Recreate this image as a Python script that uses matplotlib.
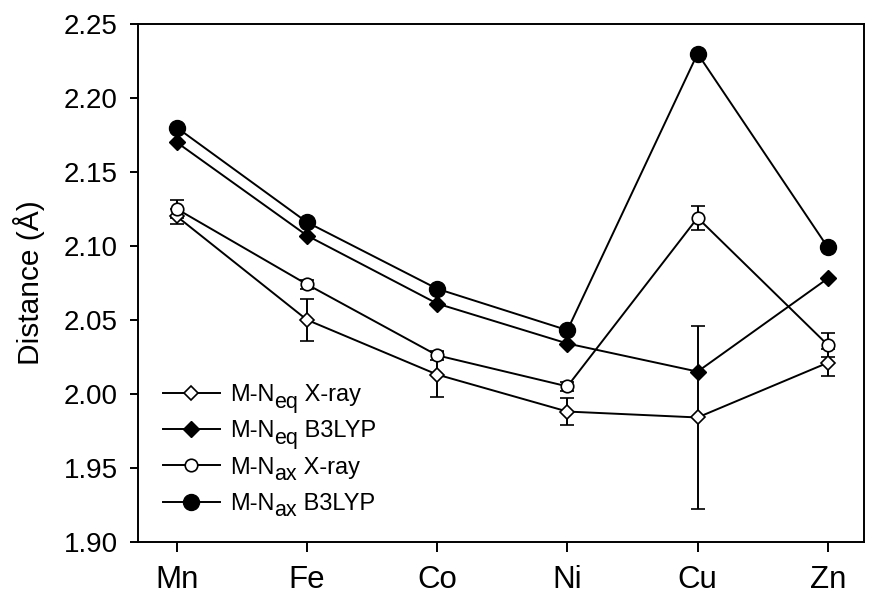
import matplotlib
matplotlib.use("Agg")
import matplotlib.pyplot as plt
from matplotlib.lines import Line2D
import numpy as np

plt.rcParams['font.family'] = ['Liberation Sans', 'DejaVu Sans']

metals = ["Mn", "Fe", "Co", "Ni", "Cu", "Zn"]

neq_xray = [2.120, 2.050, 2.013, 1.988, 1.984, 2.021]
neq_xray_err = [0.005, 0.014, 0.015, 0.009, 0.062, 0.009]
neq_b3lyp = [2.170, 2.107, 2.061, 2.034, 2.015, 2.078]
nax_xray = [2.125, 2.074, 2.026, 2.005, 2.119, 2.033]
nax_xray_err = [0.006, 0.003, 0.003, 0.003, 0.008, 0.008]
nax_b3lyp = [2.180, 2.116, 2.071, 2.043, 2.230, 2.099]

x = np.arange(len(metals))

fig = plt.figure(figsize=(8.82, 6.11), dpi=100)
ax = fig.add_axes([0.1561, 0.1134, 0.8238, 0.8473])

lw = 1.4
st = dict(
    neqx=dict(marker='D', ms=7, mfc='white', mec='black', mew=1.2),
    neqb=dict(marker='D', ms=8.5, mfc='black', mec='black'),
    naxx=dict(marker='o', ms=9, mfc='white', mec='black', mew=1.2),
    naxb=dict(marker='o', ms=11.5, mfc='black', mec='black'),
)
eb = dict(capsize=5, elinewidth=1.4, capthick=1.4)

ax.errorbar(x, neq_xray, yerr=neq_xray_err, color='black', lw=lw, zorder=3, **eb, **st['neqx'])
ax.plot(x, neq_b3lyp, color='black', lw=lw, zorder=3, **st['neqb'])
ax.errorbar(x, nax_xray, yerr=nax_xray_err, color='black', lw=lw, zorder=3, **eb, **st['naxx'])
ax.plot(x, nax_b3lyp, color='black', lw=lw, zorder=3, **st['naxb'])

ax.set_xlim(-0.3, 5.28)
ax.set_ylim(1.90, 2.25)
yt = np.arange(1.90, 2.251, 0.05)
ax.set_yticks(yt)
ax.set_yticklabels(["%.2f" % v for v in yt])
ax.set_xticks(x)
ax.set_xticklabels(metals)
ax.tick_params(axis='y', direction='out', length=5.5, width=1.4, labelsize=20, pad=9)
ax.tick_params(axis='x', direction='out', length=7, width=1.4, labelsize=22.5, pad=10)
for s in ax.spines.values():
    s.set_linewidth(1.4)
ax.set_ylabel("Distance (Å)", fontsize=21.5, labelpad=13)

# legend: "M-N" from the legend, subscript and method added next to it
handles = [Line2D([], [], color='black', lw=lw, **st[k]) for k in ['neqx', 'neqb', 'naxx', 'naxb']]
subs = ["eq", "eq", "ax", "ax"]
methods = ["X-ray", "B3LYP", "X-ray", "B3LYP"]
leg = ax.legend(handles, ["M-N"] * 4, loc='upper left', bbox_to_anchor=(0.035, 0.304),
                frameon=False, fontsize=17, handlelength=2.4, labelspacing=0.6,
                handletextpad=0.42, borderpad=0, borderaxespad=0)
for t, sb, m in zip(leg.get_texts(), subs, methods):
    a = ax.annotate(sb, xy=(1, 0), xycoords=t, xytext=(0.3, -4.5),
                    textcoords='offset points', va='bottom', ha='left',
                    fontsize=15.5, zorder=6)
    ax.annotate(" " + m, xy=(1, 0), xycoords=(a, t), va='bottom', ha='left',
                fontsize=17, zorder=6)

fig.savefig("out.png", dpi=100)
